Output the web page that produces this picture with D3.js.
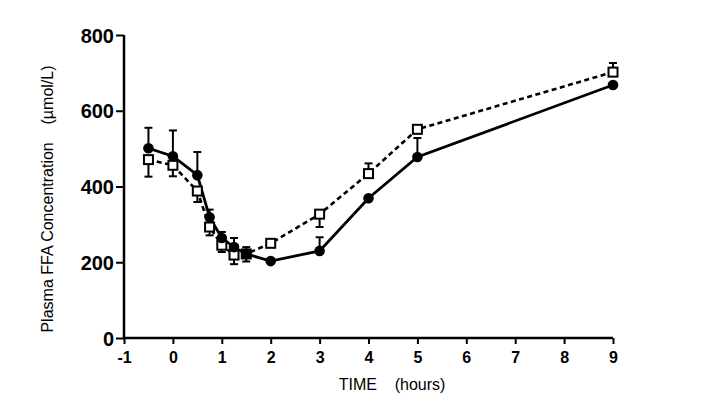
<!DOCTYPE html>
<html>
<head>
<meta charset="utf-8">
<script src="https://cdn.jsdelivr.net/npm/d3@7"></script>
<style>
html,body{margin:0;padding:0;background:#fff;}
svg{display:block;}
text{font-family:"Liberation Sans",Arial,Helvetica,sans-serif;fill:#000;}
</style>
</head>
<body>
<svg id="chart" width="702" height="412"></svg>
<script>
// ---- data ----
const times = [-0.5, 0, 0.5, 0.75, 1, 1.25, 1.5, 2, 3, 4, 5, 9];
// solid line, filled circles
const circleVals   = [501, 480, 430, 319, 264, 240, 222, 203, 230, 369, 478, 668];
const circleErrUp  = [54, 68, 61, 20, 16, 24, 18, 0, 36, 0, 50, 0];
const circleErrDn  = [0, 0, 0, 0, 0, 0, 20, 0, 0, 0, 0, 0];
// dashed line, open squares
const squareVals   = [471, 456, 388, 293, 245, 219, 222, 250, 327, 434, 551, 702];
const squareErrUp  = [0, 0, 0, 0, 0, 0, 0, 0, 0, 27, 0, 24];
const squareErrDn  = [45, 29, 29, 22, 18, 24, 0, 0, 34, 0, 0, 0];
const xTicks = [-1, 0, 1, 2, 3, 4, 5, 6, 7, 8, 9];
const xTickLabels = ["-1", "0", "1", "2", "3", "4", "5", "6", "7", "8", "9"];
const yTicks = [0, 200, 400, 600, 800];
const yTickLabels = ["0", "200", "400", "600", "800"];
const xTitle = "TIME    (hours)";
const yTitle = "Plasma FFA Concentration    (\u00B5mol/L)";

// ---- drawing ----
const svg = d3.select("#chart");
const x = d3.scaleLinear().domain([-1, 9]).range([124, 613]);
const y = d3.scaleLinear().domain([0, 800]).range([338, 35]);

// axes
const yAxis = d3.axisLeft(y).tickValues(yTicks).tickSize(8).tickPadding(2)
  .tickFormat((d, i) => yTickLabels[i]);
const gy = svg.append("g").attr("transform", `translate(${x(-1)},0)`).call(yAxis);
gy.select(".domain").attr("stroke", "#000").attr("stroke-width", 2.5).attr("d", `M0,${y(800)}V${y(0)}`);
gy.selectAll(".tick line").attr("stroke", "#000").attr("stroke-width", 2);
gy.selectAll(".tick text").attr("font-size", 20).attr("font-weight", "bold").attr("dy", "0.36em");

const xAxis = d3.axisBottom(x).tickValues(xTicks).tickSize(6).tickPadding(8)
  .tickFormat((d, i) => xTickLabels[i]);
const gx = svg.append("g").attr("transform", `translate(0,${y(0)})`).call(xAxis);
gx.select(".domain").attr("stroke", "#000").attr("stroke-width", 2.5).attr("d", `M${x(-1)},0H${x(9)}`);
gx.selectAll(".tick line").attr("stroke", "#000").attr("stroke-width", 2);
gx.selectAll(".tick text").attr("font-size", 16).attr("font-weight", "bold");

// titles
svg.append("text").attr("x", 392).attr("y", 390).attr("text-anchor", "middle")
  .attr("font-size", 16).style("white-space", "pre").text(xTitle);
svg.append("text").attr("transform", "translate(53,199) rotate(-90)").attr("text-anchor", "middle")
  .attr("font-size", 16).style("white-space", "pre").text(yTitle);

const circ = times.map((t, i) => ({t, v: circleVals[i], up: circleErrUp[i], dn: circleErrDn[i]}));
const sq = times.map((t, i) => ({t, v: squareVals[i], up: squareErrUp[i], dn: squareErrDn[i]}));
const line = d3.line().x(d => x(d.t)).y(d => y(d.v));

// lines
svg.append("path").datum(sq).attr("d", line).attr("fill", "none").attr("stroke", "#000")
  .attr("stroke-width", 2.6).attr("stroke-dasharray", "5,3.5");
svg.append("path").datum(circ).attr("d", line).attr("fill", "none").attr("stroke", "#000")
  .attr("stroke-width", 2.8);

function errorBars(data) {
  const g = svg.append("g").attr("stroke", "#000").attr("stroke-width", 2);
  data.forEach(d => {
    const cx = x(d.t);
    if (d.up > 0) {
      g.append("line").attr("x1", cx).attr("x2", cx).attr("y1", y(d.v)).attr("y2", y(d.v + d.up));
      g.append("line").attr("x1", cx - 4).attr("x2", cx + 4).attr("y1", y(d.v + d.up)).attr("y2", y(d.v + d.up));
    }
    if (d.dn > 0) {
      g.append("line").attr("x1", cx).attr("x2", cx).attr("y1", y(d.v)).attr("y2", y(d.v - d.dn));
      g.append("line").attr("x1", cx - 4).attr("x2", cx + 4).attr("y1", y(d.v - d.dn)).attr("y2", y(d.v - d.dn));
    }
  });
}
errorBars(sq);
errorBars(circ);

// markers
svg.append("g").selectAll("rect").data(sq).join("rect")
  .attr("x", d => x(d.t) - 4.5).attr("y", d => y(d.v) - 4.5)
  .attr("width", 9).attr("height", 9)
  .attr("fill", "#fff").attr("stroke", "#000").attr("stroke-width", 2);
svg.append("g").selectAll("circle").data(circ).join("circle")
  .attr("cx", d => x(d.t)).attr("cy", d => y(d.v)).attr("r", 5.3)
  .attr("fill", "#000");
</script>
</body>
</html>
